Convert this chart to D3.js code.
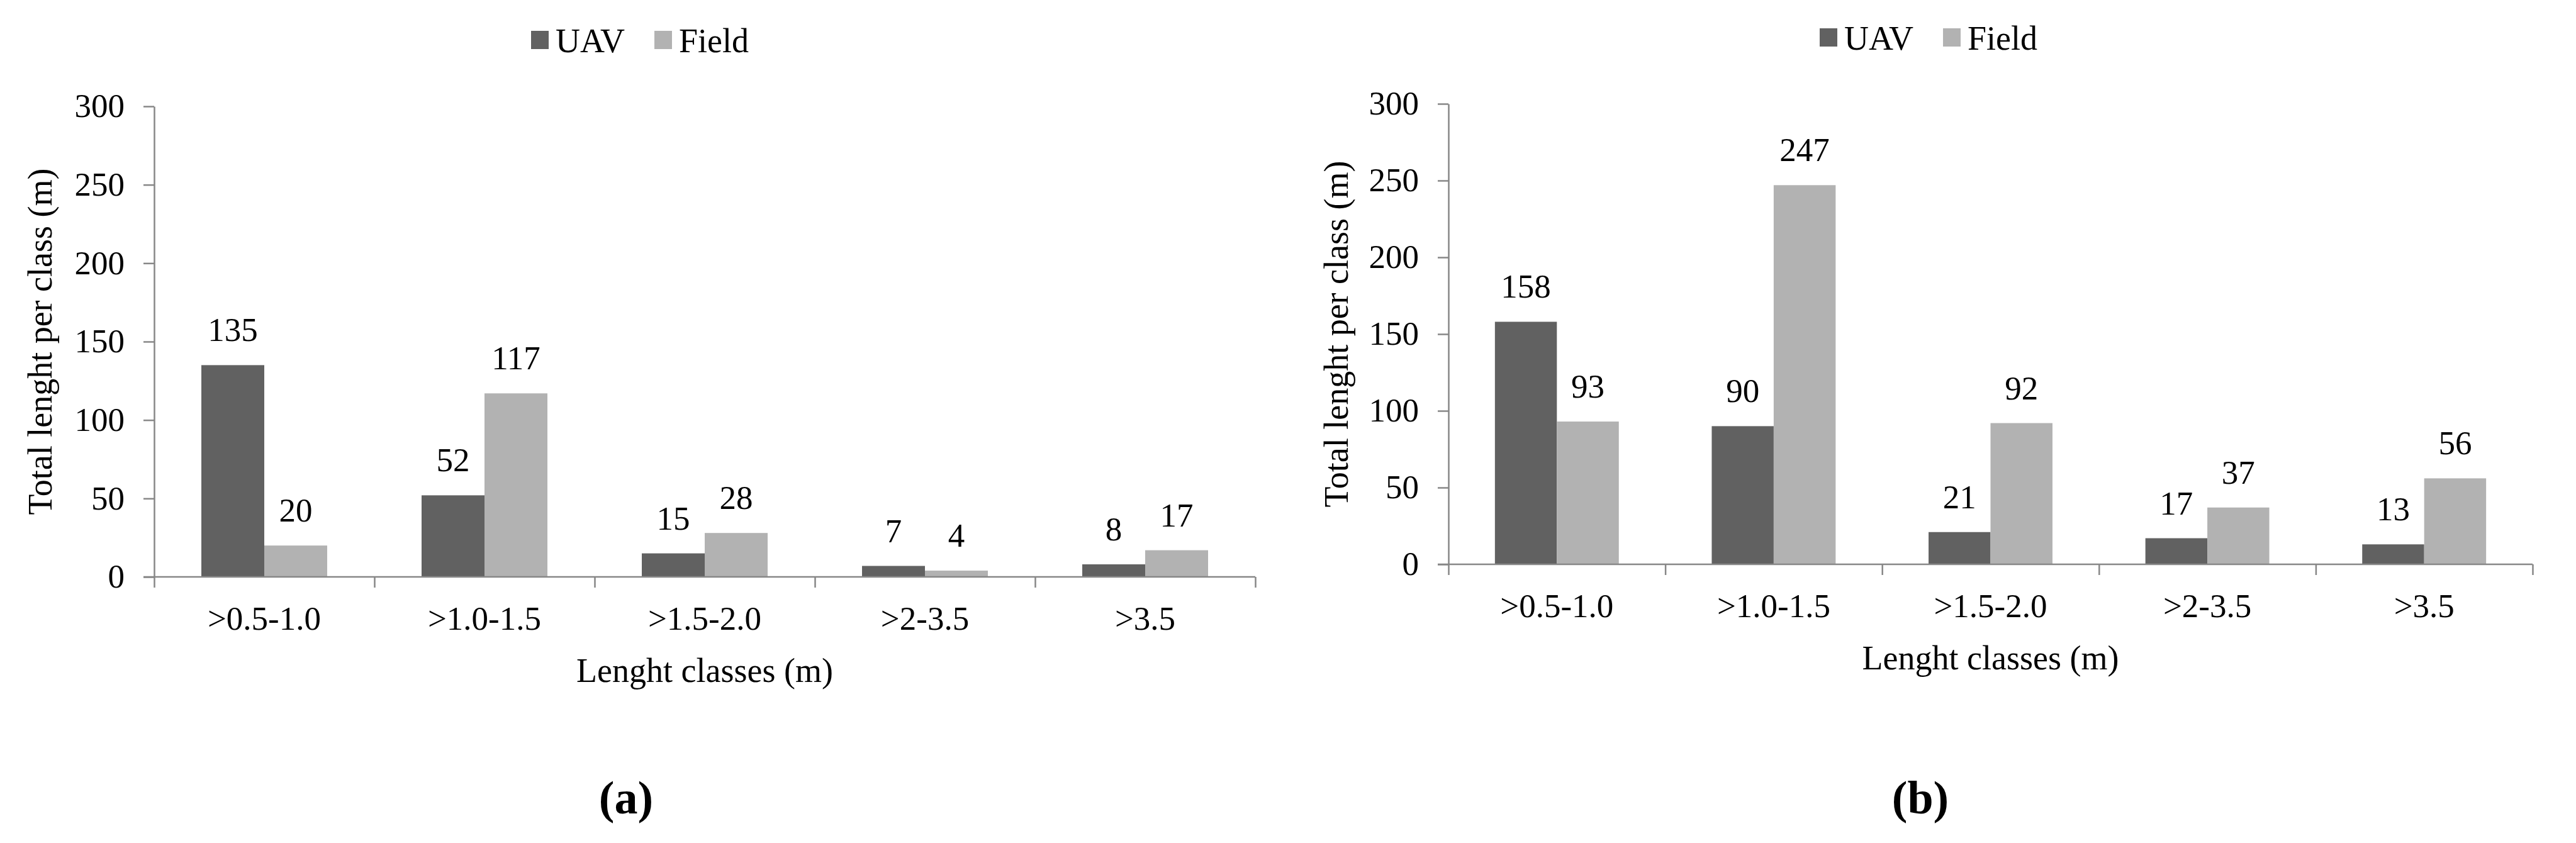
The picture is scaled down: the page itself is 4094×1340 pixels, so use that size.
<!DOCTYPE html>
<html>
<head>
<meta charset="utf-8">
<script src="https://cdn.jsdelivr.net/npm/d3@7"></script>
<style>
  body { margin: 0; background: #fff; }
  text { font-family: "Liberation Serif", "Times New Roman", serif; fill: #000; }
</style>
</head>
<body>
<svg id="grafiek" width="4094" height="1340"></svg>
<script>
// klassen en reeksen
const categories = [">0.5-1.0", ">1.0-1.5", ">1.5-2.0", ">2-3.5", ">3.5"];
const series = ["UAV", "Field"];

// waarden paneel (a)
const uavA = [135, 52, 15, 7, 8];
const fieldA = [20, 117, 28, 4, 17];

// waarden paneel (b)
const uavB = [158, 90, 21, 17, 13];
const fieldB = [93, 247, 92, 37, 56];

const yTicks = [0, 50, 100, 150, 200, 250, 300];
const yTitle = "Total lenght per class (m)";
const xTitle = "Lenght classes (m)";

const colors = { UAV: "#616161", Field: "#b2b2b2" };
const axisColor = "#878787";

const svg = d3.select("#grafiek");

function drawPanel(cfg, uav, field, caption) {
    const g = svg.append("g");

    const x0 = d3.scaleBand().domain(categories).range([cfg.left, cfg.right]).padding(0);
    // excel gap width 150%
    const x1 = d3.scaleBand().domain(series).range([0, x0.bandwidth()]).paddingInner(0).paddingOuter(0.75);
    const y = d3.scaleLinear().domain([0, 300]).range([cfg.bottom, cfg.top]);
    const xEdges = d3.scaleLinear().domain([0, categories.length]).range([cfg.left, cfg.right]);

    // y as
    const yAxis = g.append("g")
        .attr("transform", "translate(" + cfg.left + ",0)")
        .call(d3.axisLeft(y).tickValues(yTicks).tickSize(17).tickPadding(30).tickSizeOuter(0));
    yAxis.select(".domain").attr("stroke", axisColor).attr("stroke-width", 2.5);
    yAxis.selectAll(".tick line").attr("stroke", axisColor).attr("stroke-width", 2.5);
    yAxis.selectAll(".tick text").attr("font-size", 53).attr("font-family", "Liberation Serif").attr("fill", "#000");

    // staven
    const rows = categories.map(function (c, i) {
        return { cat: c, vals: [{ s: "UAV", v: uav[i] }, { s: "Field", v: field[i] }] };
    });
    const groups = g.selectAll(".cat")
        .data(rows)
        .join("g")
        .attr("transform", function (d) { return "translate(" + x0(d.cat) + ",0)"; });

    groups.selectAll("rect")
        .data(function (d) { return d.vals; })
        .join("rect")
        .attr("x", function (d) { return x1(d.s); })
        .attr("width", x1.bandwidth())
        .attr("y", function (d) { return y(d.v); })
        .attr("height", function (d) { return y(0) - y(d.v); })
        .attr("fill", function (d) { return colors[d.s]; });

    groups.selectAll("text.val")
        .data(function (d) { return d.vals; })
        .join("text")
        .attr("class", "val")
        .attr("x", function (d) { return x1(d.s) + x1.bandwidth() / 2; })
        .attr("y", function (d) { return y(d.v) - 38; })
        .attr("text-anchor", "middle")
        .attr("font-size", 53)
        .text(function (d) { return d.v; });

    // x as: streepjes op de klassegrenzen
    const xTickAxis = g.append("g")
        .attr("transform", "translate(0," + cfg.bottom + ")")
        .call(d3.axisBottom(xEdges).tickValues(d3.range(categories.length + 1)).tickFormat("").tickSize(17).tickSizeOuter(0));
    xTickAxis.select(".domain").remove();
    xTickAxis.selectAll(".tick line").attr("stroke", axisColor).attr("stroke-width", 2.5);

    const xAxis = g.append("g")
        .attr("transform", "translate(0," + cfg.bottom + ")")
        .call(d3.axisBottom(x0).tickSize(0).tickPadding(46));
    xAxis.select(".domain")
        .attr("stroke", axisColor).attr("stroke-width", 2.5)
        .attr("d", "M" + (cfg.left - 17) + ",0H" + cfg.right);
    xAxis.selectAll(".tick text").attr("font-size", 53).attr("font-family", "Liberation Serif").attr("fill", "#000");

    // titels
    g.append("text")
        .attr("transform", "translate(" + cfg.yTitleX + "," + ((cfg.top + cfg.bottom) / 2) + ") rotate(-90)")
        .attr("text-anchor", "middle")
        .attr("font-size", 54)
        .text(yTitle);

    g.append("text")
        .attr("x", (cfg.left + cfg.right) / 2)
        .attr("y", cfg.bottom + 167)
        .attr("text-anchor", "middle")
        .attr("font-size", 54)
        .text(xTitle);

    // legenda
    const leg = g.append("g").attr("transform", "translate(" + cfg.legendX + "," + cfg.legendY + ")");
    const legX = [0, 196];
    series.forEach(function (s, i) {
        leg.append("rect")
            .attr("x", legX[i])
            .attr("y", -34)
            .attr("width", 28)
            .attr("height", 29)
            .attr("fill", colors[s]);
        leg.append("text")
            .attr("x", legX[i] + 39)
            .attr("y", 0)
            .attr("font-size", 54)
            .text(s);
    });

    // onderschrift
    svg.append("text")
        .attr("x", cfg.captionX)
        .attr("y", 1293)
        .attr("text-anchor", "middle")
        .attr("font-size", 74)
        .attr("font-weight", "bold")
        .text(caption);
}

drawPanel({ left: 245, right: 1995, top: 169, bottom: 917, yTitleX: 82, legendX: 844, legendY: 83, captionX: 995 }, uavA, fieldA, "(a)");
drawPanel({ left: 2302, right: 4025, top: 165, bottom: 897, yTitleX: 2142, legendX: 2892, legendY: 79, captionX: 3052 }, uavB, fieldB, "(b)");
</script>
</body>
</html>
